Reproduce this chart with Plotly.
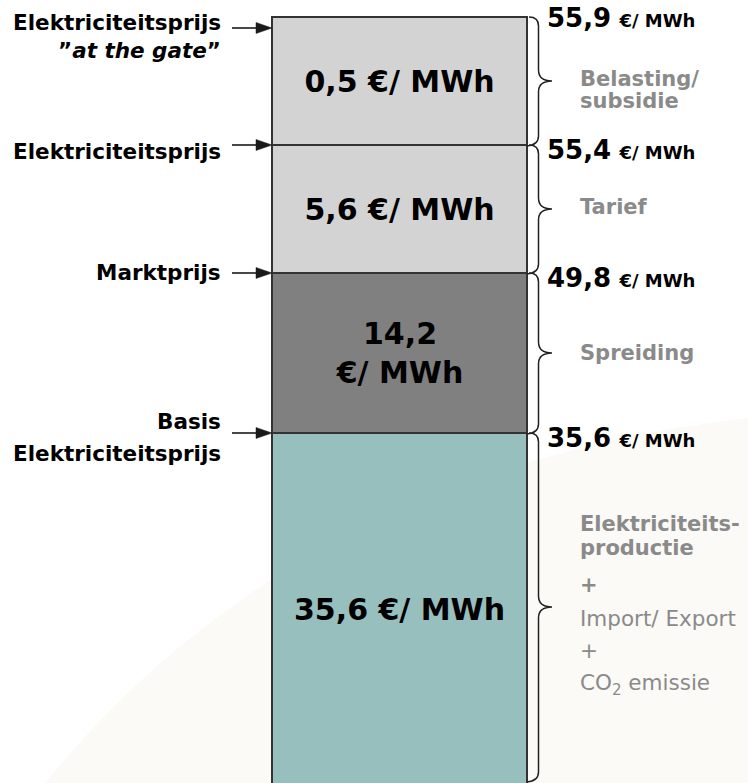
import plotly.graph_objects as go

# ---------------- data ----------------
components = ["Elektriciteitsproductie", "Spreiding", "Tarief", "Belasting/subsidie"]
values = [35.6, 14.2, 5.6, 0.5]                 # €/MWh per component (bottom -> top)
price_levels = [35.6, 49.8, 55.4, 55.9]         # cumulative €/MWh at top of each component
schematic_heights = [35.2, 16.0, 12.8, 12.8]    # drawn (non-proportional) segment heights
label_two_lines = [False, True, False, False]
level_names = [["Basis", "Elektriciteitsprijs"], ["Marktprijs"],
               ["Elektriciteitsprijs"], ["Elektriciteitsprijs", "”<i>at the gate</i>”"]]
component_notes = [
    [("Elektriciteits-", True), ("productie", True), ("+", True),
     ("Import/ Export", False), ("+", False), ("CO<sub>2</sub> emissie", False)],
    [("Spreiding", True)],
    [("Tarief", True)],
    [("Belasting/", True), ("subsidie", True)],
]
colors = ["#96bfbd", "#808080", "#d3d3d3", "#d3d3d3"]

W, H = 748, 783
FONT = "DejaVu Sans"
YMIN, YMAX = 0.2, 78.5


def fmt(v):
    return f"{v:.1f}".replace(".", ",")


def ypx(v):
    return (YMAX - v) * H / (YMAX - YMIN)


def X(px):
    return px / W


def Y(py):
    return 1 - py / H


def P(a, b):
    return f"{X(a):.5f},{Y(b):.5f}"


fig = go.Figure()

# faint background swoosh
fig.add_shape(type="path", xref="paper", yref="paper", layer="below",
              path=f"M {P(45, 783)} Q {P(300, 470)} {P(748, 418)} L {P(748, 783)} Z",
              fillcolor="#fbfaf6", line=dict(width=0))

# stacked bar
for name, v, h, c, two in zip(components, values, schematic_heights, colors, label_two_lines):
    sep = "<br>" if two else " "
    fig.add_trace(go.Bar(
        x=["Prijs"], y=[h], name=name, marker=dict(color=c, line=dict(color="#333333", width=1.6)),
        text=[f"<b>{fmt(v)}{sep}€/ MWh</b>"], textposition="inside", insidetextanchor="middle",
        textfont=dict(family=FONT, size=30, color="#000000"), constraintext="none",
        showlegend=False, hovertemplate=f"{name}: {fmt(v)} €/MWh<extra></extra>"))

# boundaries (in data units) from schematic heights
tops = []
acc = 0
for h in schematic_heights:
    acc += h
    tops.append(acc)
bottoms = [0] + tops[:-1]

# arrows pointing at each price level
arrow_offsets = [0, 0, 0, -11]
for i, top in enumerate(tops):
    ay_px = ypx(top) - arrow_offsets[i]
    fig.add_shape(type="line", xref="paper", yref="paper",
                  x0=X(232), x1=X(260), y0=Y(ay_px), y1=Y(ay_px),
                  line=dict(color="#1a1a1a", width=1.6))
    fig.add_shape(type="path", xref="paper", yref="paper",
                  path=f"M {P(256, ay_px - 5.5)} L {P(272, ay_px)} L {P(256, ay_px + 5.5)} Z",
                  fillcolor="#1a1a1a", line=dict(color="#1a1a1a", width=0.5))

# left labels
label_pos = {0: [422, 453], 1: [272], 2: [151], 3: [23, 51]}
for i, names in enumerate(level_names):
    for nm, py in zip(names, label_pos[i]):
        fig.add_annotation(x=X(223), y=Y(py), xref="paper", yref="paper", text=f"<b>{nm}</b>",
                           showarrow=False, xanchor="right", yanchor="middle",
                           font=dict(family=FONT, size=21.5, color="#000000"))

# cumulative price labels on the right
for i, (top, lvl) in enumerate(zip(tops, price_levels)):
    py = ypx(top) + (1 if i == 3 else 5)
    fig.add_annotation(x=X(545), y=Y(py), xref="paper", yref="paper",
                       text=f"<b>{fmt(lvl)}</b> <b><span style='font-size:18px'>€/ MWh</span></b>",
                       showarrow=False, xanchor="left", yanchor="middle",
                       font=dict(family=FONT, size=26, color="#000000"))

# braces
x0, xv, xt, r, tip = 529, 538.5, 552, 9, 11
for i, (b, t) in enumerate(zip(bottoms, tops)):
    y1 = ypx(t)
    y2 = min(ypx(b), 781)
    ym = (y1 + y2) / 2
    path = (f"M {P(x0, y1)} Q {P(xv, y1)} {P(xv, y1 + r)} L {P(xv, ym - tip)} "
            f"Q {P(xv, ym)} {P(xt, ym)} Q {P(xv, ym)} {P(xv, ym + tip)} "
            f"L {P(xv, y2 - r)} Q {P(xv, y2)} {P(x0 - 2, y2 + 1)}")
    fig.add_shape(type="path", xref="paper", yref="paper", path=path,
                  line=dict(color="#222222", width=1.5))

# gray component notes
note_pos = {0: [524, 548, 585, 618, 650, 684], 1: [353], 2: [207], 3: [79, 101]}
for i, notes in enumerate(component_notes):
    for (txt, bold), py in zip(notes, note_pos[i]):
        fig.add_annotation(x=X(578), y=Y(py), xref="paper", yref="paper",
                           text=f"<b>{txt}</b>" if bold else txt,
                           showarrow=False, xanchor="left", yanchor="middle",
                           font=dict(family=FONT, size=21 if bold else 21.5, color="#8a8a8a"))

fig.update_layout(
    width=W, height=H, margin=dict(l=0, r=0, t=0, b=0),
    paper_bgcolor="white", plot_bgcolor="rgba(0,0,0,0)",
    barmode="stack", bargap=0.659,
    xaxis=dict(range=[-399.5 / W, (W - 399.5) / W], visible=False, type="category"),
    yaxis=dict(range=[YMIN, YMAX], visible=False),
    showlegend=False,
)

fig.write_html("out.html")
